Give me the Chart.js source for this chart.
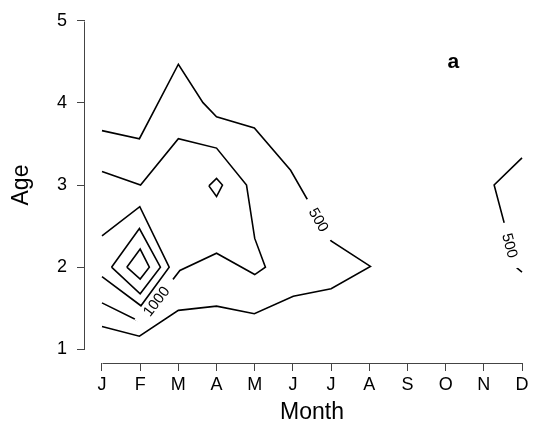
<!DOCTYPE html>
<html><head><meta charset="utf-8">
<script src="https://cdn.jsdelivr.net/npm/chart.js@4/dist/chart.umd.min.js"></script>
<style>html,body{margin:0;padding:0;background:#fff;}</style>
</head><body>
<canvas id="c" width="535" height="431"></canvas>
<script>
// ---- data (month index 1..12, age) ----
const months = ['J','F','M','A','M','J','J','A','S','O','N','D'];
const ageTicks = [1, 2, 3, 4, 5];
const c500a = [[1,3.663],[1.98,3.564],[3,4.471],[3.645,4.003],[4,3.83],[4.99,3.695],[5.94,3.18],[7,2.32],[8.03,2.01],[7,1.737],[6.01,1.645],[4.99,1.433],[4,1.525],[3,1.474],[1.98,1.159],[1,1.278]];
const c500b = [[12,3.33],[11.27,3.0],[11.84,2.0],[12,1.94]];
const c1000a = [[1,3.165],[2.01,3.0],[3,3.565],[4,3.45],[4.785,3.0],[5,2.35],[5.28,2.0],[5,1.91],[4,2.17],[3.04,1.96],[2,1.335],[1,1.565]];
const c1000b = [[3.8,2.99],[4,3.08],[4.155,3.0],[4,2.86],[3.8,2.99]];
const c1500 = [[1,2.38],[1.99,2.737],[2.76,2.0],[2.02,1.53],[1,1.885]];
const c2000 = [[1.25,2.0],[1.98,2.47],[2.53,2.0],[2,1.675],[1.25,2.0]];
const c2500 = [[1.65,2.0],[2,2.22],[2.24,2.0],[2,1.856],[1.65,2.0]];
const contourLabels = [
  {text:'500',  line:'c500a',  seg:6, t:0.70},
  {text:'1000', line:'c1000a', seg:9, t:0.60},
  {text:'500',  line:'c500b',  seg:1, t:0.736}
];
const panelLetter = 'a';
const xTitle = 'Month', yTitle = 'Age';

const lines = {c500a, c500b, c1000a, c1000b, c1500, c2000, c2500};
const FONT = '"Liberation Sans", Arial, Helvetica, sans-serif';
const labelFont = '15px ' + FONT;
const AXIS_COLOR = '#444';

function labelGeom(chart, l) {
  const xs = chart.scales.x, ys = chart.scales.y;
  const d = lines[l.line];
  const p0 = d[l.seg], p1 = d[l.seg + 1];
  const x0 = xs.getPixelForValue(p0[0]), y0 = ys.getPixelForValue(p0[1]);
  const x1 = xs.getPixelForValue(p1[0]), y1 = ys.getPixelForValue(p1[1]);
  let ang = Math.atan2(y1 - y0, x1 - x0);
  if (ang > Math.PI / 2) ang -= Math.PI;
  if (ang < -Math.PI / 2) ang += Math.PI;
  return {x: x0 + (x1 - x0) * l.t, y: y0 + (y1 - y0) * l.t, ang};
}

const contourPlugin = {
  id: 'contourDecor',
  beforeDatasetDraw(chart, args) {
    const ds = chart.data.datasets[args.index];
    const labs = contourLabels.filter(l => l.line === ds.key);
    ds._clipped = false;
    if (!labs.length) return;
    const ctx = chart.ctx;
    ctx.save();
    ctx.font = labelFont;
    ctx.beginPath();
    ctx.rect(0, 0, chart.width, chart.height);
    labs.forEach(l => {
      const g = labelGeom(chart, l);
      const w = ctx.measureText(l.text).width + 22;
      const h = 12;
      const c = Math.cos(g.ang), s = Math.sin(g.ang);
      const pts = [[-w/2,-h/2],[w/2,-h/2],[w/2,h/2],[-w/2,h/2]].map(([a,b]) => [g.x + a*c - b*s, g.y + a*s + b*c]);
      ctx.moveTo(pts[0][0], pts[0][1]);
      for (let i = 1; i < 4; i++) ctx.lineTo(pts[i][0], pts[i][1]);
      ctx.closePath();
    });
    ctx.clip('evenodd');
    ds._clipped = true;
  },
  afterDatasetDraw(chart, args) {
    const ds = chart.data.datasets[args.index];
    if (ds._clipped) { chart.ctx.restore(); ds._clipped = false; }
  },
  afterDraw(chart) {
    const ctx = chart.ctx, xs = chart.scales.x, ys = chart.scales.y, ca = chart.chartArea;
    ctx.save();
    // axis lines spanning tick range
    ctx.strokeStyle = AXIS_COLOR; ctx.lineWidth = 1;
    ctx.beginPath();
    const xb = Math.round(ca.bottom) + 0.5;
    ctx.moveTo(Math.round(xs.getPixelForValue(1)) + 0.5, xb);
    ctx.lineTo(Math.round(xs.getPixelForValue(12)) + 0.5, xb);
    const yl = Math.round(ca.left) - 0.5;
    ctx.moveTo(yl, Math.round(ys.getPixelForValue(1)) + 0.5);
    ctx.lineTo(yl, Math.round(ys.getPixelForValue(5)) + 0.5);
    ctx.stroke();
    // contour labels
    ctx.fillStyle = '#000';
    ctx.font = labelFont;
    ctx.textAlign = 'center'; ctx.textBaseline = 'middle';
    contourLabels.forEach(l => {
      const g = labelGeom(chart, l);
      ctx.save(); ctx.translate(g.x, g.y); ctx.rotate(g.ang);
      ctx.fillText(l.text, 0, 1);
      ctx.restore();
    });
    // axis titles
    ctx.font = '23px ' + FONT;
    ctx.fillText(xTitle, (xs.getPixelForValue(1) + xs.getPixelForValue(12)) / 2, 413);
    ctx.save();
    ctx.translate(22, (ys.getPixelForValue(1) + ys.getPixelForValue(5)) / 2);
    ctx.rotate(-Math.PI / 2);
    ctx.fillText(yTitle, 0, 0);
    ctx.restore();
    // panel letter
    ctx.font = 'bold 21px ' + FONT;
    ctx.fillText(panelLetter, xs.getPixelForValue(10.2), ys.getPixelForValue(4.5));
    ctx.restore();
  }
};

const toXY = arr => arr.map(([x, y]) => ({x, y}));
const datasets = Object.keys(lines).map(k => ({
  key: k, data: toXY(lines[k]), showLine: true, fill: false,
  borderColor: '#000', borderWidth: 1.6, pointRadius: 0, tension: 0, clip: false
}));

new Chart(document.getElementById('c'), {
  type: 'scatter',
  data: {datasets},
  plugins: [contourPlugin],
  options: {
    responsive: false, animation: false,
    layout: {padding: {top: 14, right: 13, left: 0, bottom: 0}},
    plugins: {legend: {display: false}, tooltip: {enabled: false}},
    scales: {
      x: {
        type: 'linear', min: 0.555, max: 12,
        afterBuildTicks: s => { s.ticks = months.map((m, i) => ({value: i + 1})); },
        afterFit: s => { s.height = 68; },
        ticks: {callback: v => months[Math.round(v) - 1], color: '#000', padding: 3, maxRotation: 0, autoSkip: false,
                font: {family: FONT, size: 18}},
        grid: {drawOnChartArea: false, drawTicks: true, tickLength: 8, color: AXIS_COLOR, lineWidth: 1},
        border: {display: false}
      },
      y: {
        type: 'linear', min: 0.833, max: 5,
        afterBuildTicks: s => { s.ticks = ageTicks.map(v => ({value: v})); },
        afterFit: s => { s.width = 85; },
        ticks: {callback: v => String(v), color: '#000', padding: 10, font: {family: FONT, size: 18}},
        grid: {drawOnChartArea: false, drawTicks: true, tickLength: 8, color: AXIS_COLOR, lineWidth: 1},
        border: {display: false}
      }
    }
  }
});
</script>
</body></html>
